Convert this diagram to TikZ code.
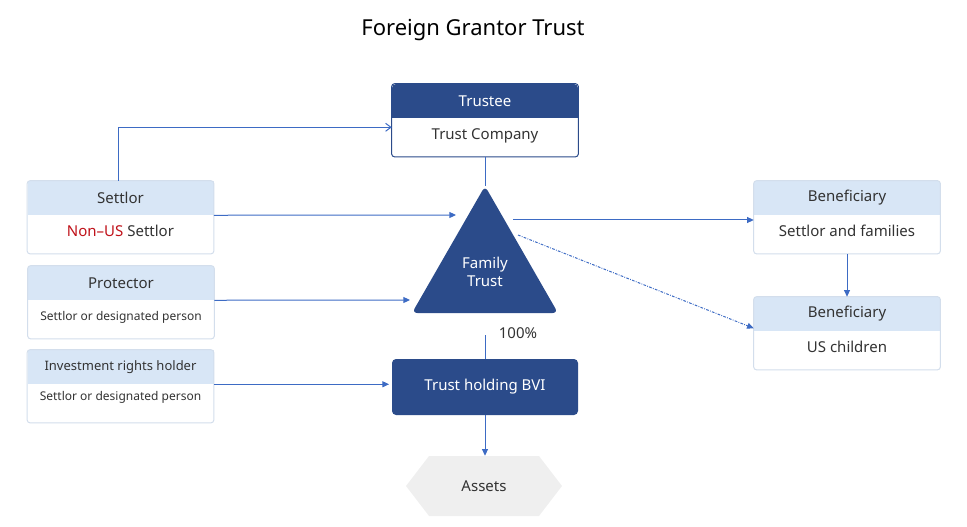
\documentclass[tikz,border=0pt]{standalone}
\usepackage{fontspec}
\setmainfont{Noto Sans}
\usetikzlibrary{arrows.meta,positioning,fit,shapes.symbols}

\definecolor{trustblue}{HTML}{2B4B8A}
\definecolor{lineblue}{HTML}{3D6BC4}
\definecolor{headblue}{HTML}{D8E6F6}
\definecolor{framegray}{HTML}{D3DEEC}
\definecolor{assetgray}{HTML}{EFEFEF}
\definecolor{txtgray}{HTML}{333333}
\definecolor{nonusred}{HTML}{C0121A}

\begin{document}
\begin{tikzpicture}[x=0.75pt, y=-0.75pt, font=\fontsize{11.25}{13.5}\selectfont, text=txtgray,
		head/.style={rectangle, fill=headblue, minimum width=139.5pt, minimum height=25.5pt, inner sep=0pt},
		body/.style={rectangle, fill=white, minimum width=139.5pt, minimum height=28.5pt, inner sep=0pt, text depth=0.5em},
		frame/.style={draw=framegray, rounded corners=2pt, inner sep=0pt, line width=0.75pt},
		darkbox/.style={rectangle, fill=trustblue, text=white, rounded corners=3pt, minimum width=139.5pt, inner sep=0pt},
		small/.style={font=\fontsize{9}{11}\selectfont},
		line/.style={draw=lineblue, line width=0.75pt, -{Triangle[length=5pt,width=4.5pt]}},
		plain/.style={draw=lineblue, line width=0.75pt}]
		\useasboundingbox (0,0) rectangle (967,527);

		% Title
		\node [font=\fontsize{16.5}{19}\selectfont, text=black] (title) at (473,30) {Foreign Grantor Trust};

		% Trustee
		\node [darkbox, minimum height=25.5pt] (trustee) at (485,101) {Trustee};
		\node [body, below=0pt of trustee] (trusteeB) {Trust Company};
		\node [frame, draw=trustblue, fit=(trustee)(trusteeB)] {};
		\fill [trustblue] (trustee.south west) rectangle ([yshift=6pt]trustee.south east);

		% Left side
		\node [head] (settlor) at (120.5,198) {Settlor};
		\node [body, below=0pt of settlor] (settlorB) {\textcolor{nonusred}{Non--US} Settlor};
		\node [frame, fit=(settlor)(settlorB)] {};

		\node [head] (protector) at (121,283) {Protector};
		\node [body, small, below=0pt of protector] (protectorB) {Settlor or designated person};
		\node [frame, fit=(protector)(protectorB)] {};

		\node [head, font=\fontsize{9.75}{12}\selectfont] (invest) at (120.5,367) {Investment rights holder};
		\node [body, small, text depth=1.1em, below=0pt of invest] (investB) {Settlor or designated person};
		\node [frame, fit=(invest)(investB)] {};

		% Right side
		\node [head] (ben1) at (847,198) {Beneficiary};
		\node [body, below=0pt of ben1] (ben1B) {Settlor and families};
		\node [frame, fit=(ben1)(ben1B)] {};

		\node [head] (ben2) at (847,314) {Beneficiary};
		\node [body, below=0pt of ben2] (ben2B) {US children};
		\node [frame, fit=(ben2)(ben2B)] {};

		% Family trust
		\coordinate (apex) at (485,186);
		\coordinate (baseL) at (412,313);
		\coordinate (baseR) at (558,313);
		\fill [trustblue, rounded corners=4pt] (apex) -- (baseR) -- (baseL) -- cycle;
		\node [text=white, align=center] (trust) at (485,272) {Family\\Trust};

		% Holding and assets
		\node [darkbox, minimum height=42pt] (bvi) at (485,387) {Trust holding BVI};
		\node [shape=signal, signal to=west and east, signal pointer angle=105, fill=assetgray,
			minimum width=117pt, minimum height=45pt, inner sep=0pt] (assets) at (484,486) {Assets};
		\node (pct) at (518,333) {100\%};

		% Ends on the triangle
		\coordinate (inS) at (456,215);
		\coordinate (inP) at (410,300);
		\coordinate (outB) at (513,220);
		\coordinate (outU) at (518,235);
		\coordinate (topBVI) at (485,335);

		% Paths
		\draw [plain, -{Straight Barb[length=4pt,width=6pt]}] ([xshift=-1.5pt]settlor.north) |- ([yshift=-6.75pt]trustee.south west);
		\path [line] (settlor.south east) -- (inS);
		\path [line] (protector.south east) -- (inP);
		\path [line, shorten >=2pt] (invest.south east) -- (invest.south east -| bvi.west);
		\path [plain] (trusteeB.south) -- (apex);
		\path [line] (outB) -- (outB -| ben1.west);
		\path [line, dash pattern=on 2pt off 1pt on 0.6pt off 1pt] (outU) -- ([yshift=2.25pt]ben2.south west);
		\path [line] (ben1B.south) -- (ben2.north);
		\path [plain] (topBVI) -- (bvi.north);
		\path [line] (bvi.south) -- (bvi.south |- assets.north);
	\end{tikzpicture}
\end{document}
